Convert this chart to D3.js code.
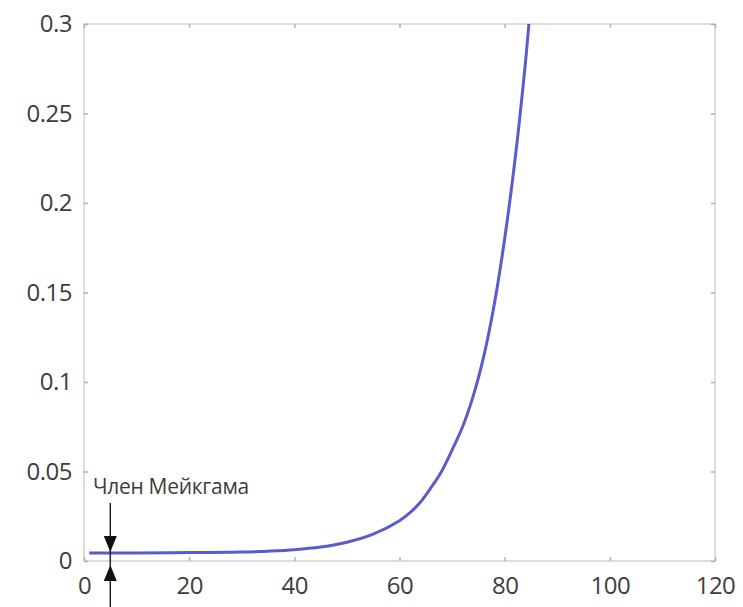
<!DOCTYPE html>
<html>
<head>
<meta charset="utf-8">
<script src="https://cdn.jsdelivr.net/npm/d3@7"></script>
<style>
  body { margin: 0; background: #fff; }
  svg { display: block; }
</style>
</head>
<body>
<svg id="chart" width="743" height="607"></svg>
<script>
// values (age -> mortality rate)
const ages = [1, 10, 20, 30, 35, 40, 45, 50, 55, 60, 62, 64, 66, 68, 70, 72, 74, 76, 78, 80, 82, 84, 84.6];
const mu   = [0.0045, 0.0045, 0.0047, 0.005, 0.0055, 0.0063, 0.0078, 0.0105, 0.015, 0.0225, 0.027, 0.033, 0.041, 0.05, 0.062, 0.075, 0.092, 0.114, 0.143, 0.18, 0.225, 0.28, 0.3];

const xTicks = [0, 20, 40, 60, 80, 100, 120];
const yTicks = [0, 0.05, 0.1, 0.15, 0.2, 0.25, 0.3];
const yTickLabels = ["0", "0.05", "0.1", "0.15", "0.2", "0.25", "0.3"];

const annotation = "Член Мейкгама";
const makehamAge = 5;
const makehamValue = 0.0045;

const margin = { top: 24, right: 28, bottom: 46, left: 84 };
const width = 743, height = 607;
const innerW = width - margin.left - margin.right;
const innerH = height - margin.top - margin.bottom;

const svg = d3.select("#chart");
const g = svg.append("g").attr("transform", `translate(${margin.left},${margin.top})`);

const x = d3.scaleLinear().domain([0, 120]).range([0, innerW]);
const y = d3.scaleLinear().domain([0, 0.3]).range([innerH, 0]);

const font = "'Open Sans', 'Noto Sans', sans-serif";
const textColor = "#3d3d3d";
const boxColor = "#d2d2d2";

// box
g.append("rect")
  .attr("width", innerW).attr("height", innerH)
  .attr("fill", "none").attr("stroke", boxColor).attr("stroke-width", 1.5);

const styleAxis = sel => {
  sel.select(".domain").remove();
  sel.selectAll(".tick line").attr("stroke", "#b0b0b0").attr("stroke-width", 1.5);
  sel.selectAll(".tick text")
    .attr("fill", textColor)
    .style("font-family", font)
    .style("font-size", "24px")
    .style("letter-spacing", "-0.5px");
};

// bottom
g.append("g")
  .attr("transform", `translate(0,${innerH})`)
  .call(d3.axisBottom(x).tickValues(xTicks).tickSize(-4).tickPadding(16).tickFormat(d3.format("d")))
  .call(styleAxis);

// top (marks only)
g.append("g")
  .call(d3.axisTop(x).tickValues(xTicks).tickSize(-4).tickFormat(""))
  .call(styleAxis);

// left
g.append("g")
  .call(d3.axisLeft(y).tickValues(yTicks).tickSize(-4).tickPadding(12).tickFormat((d, i) => yTickLabels[i]))
  .call(styleAxis);

// right (marks only)
g.append("g")
  .attr("transform", `translate(${innerW},0)`)
  .call(d3.axisRight(y).tickValues(yTicks).tickSize(-4).tickFormat(""))
  .call(styleAxis);

// curve
const line = d3.line()
  .x((d, i) => x(ages[i]))
  .y(d => y(d))
  .curve(d3.curveCatmullRom.alpha(0.5));

g.append("path")
  .datum(mu)
  .attr("d", line)
  .attr("fill", "none")
  .attr("stroke", "#5b5bcc")
  .attr("stroke-width", 3);

// Makeham annotation
const ax = x(makehamAge);
g.append("line")
  .attr("x1", ax).attr("x2", ax)
  .attr("y1", 503 - margin.top).attr("y2", height - margin.top)
  .attr("stroke", "#222").attr("stroke-width", 1.5);

const arrowH = 16, arrowW = 13;
const tipDown = y(makehamValue) - 1;
const tipUp = y(0) + 4;
g.append("path")
  .attr("d", `M${ax},${tipDown} L${ax - arrowW / 2},${tipDown - arrowH} L${ax + arrowW / 2},${tipDown - arrowH} Z`)
  .attr("fill", "#111");
g.append("path")
  .attr("d", `M${ax},${tipUp} L${ax - arrowW / 2},${tipUp + arrowH} L${ax + arrowW / 2},${tipUp + arrowH} Z`)
  .attr("fill", "#111");

g.append("text")
  .attr("x", 93 - margin.left)
  .attr("y", 494 - margin.top)
  .attr("fill", textColor)
  .style("font-family", font)
  .style("font-size", "21px")
  .style("letter-spacing", "-0.3px")
  .text(annotation);
</script>
</body>
</html>
